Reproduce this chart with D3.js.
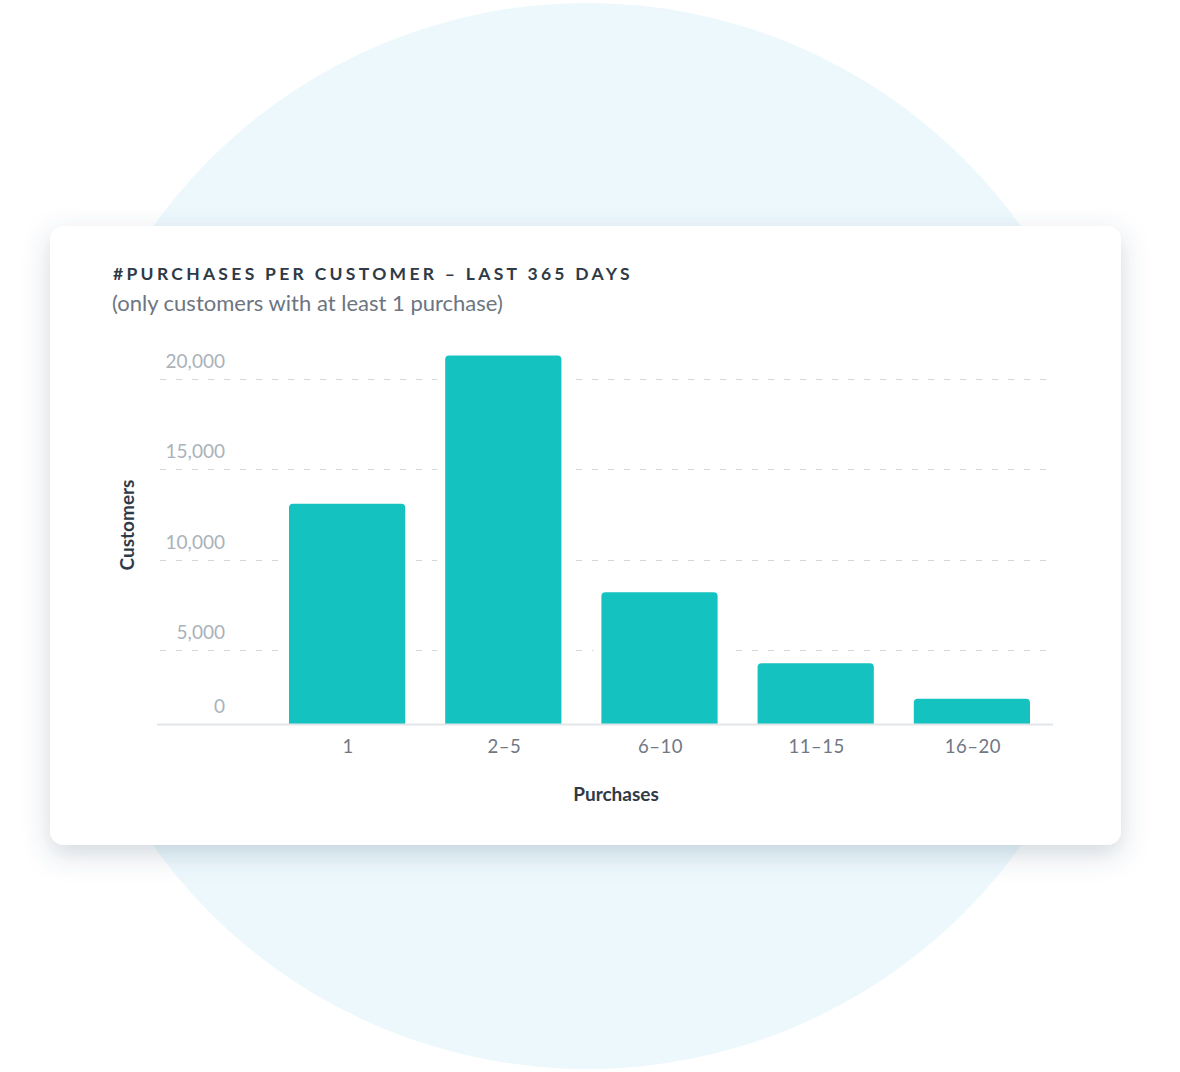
<!DOCTYPE html>
<html>
  <head>
    <meta charset="utf-8">
    <script src="https://d3js.org/d3.v7.min.js"></script>
    <title>Purchases per customer</title>
    <style>
      body {
        margin: 0px;
        background: #fff;
      }
      text {
        font-family: Lato, "Open Sans", sans-serif;
      }
      .title {
        fill: #2f3a47;
        font-size: 17.5px;
        font-weight: bold;
        letter-spacing: 3.3px;
      }
      .subtitle {
        fill: #6c7581;
        font-size: 22px;
      }
      .y-tick {
        fill: #aab2ba;
        font-size: 19px;
      }
      .x-tick {
        fill: #6f7884;
        font-size: 18.5px;
        letter-spacing: 0.5px;
      }
      .axis-label {
        fill: #2f3a47;
        font-size: 19px;
        font-weight: bold;
      }
    </style>
  </head>
  <body>
    <svg width="1180" height="1072"></svg>
    <script>
      const categories = ['1', '2\u20135', '6\u201310', '11\u201315', '16\u201320'];
      const customers = [13100, 21300, 8200, 4100, 1700];
      const yTicks = [0, 5000, 10000, 15000, 20000];

      const svg = d3.select('svg');

      // soft drop shadow for the card
      const defs = svg.append('defs');
      const shadow = defs.append('filter')
          .attr('id', 'shadow')
          .attr('x', '-10%').attr('y', '-15%')
          .attr('width', '120%').attr('height', '140%');
      shadow.append('feDropShadow')
          .attr('dx', 0).attr('dy', 9)
          .attr('stdDeviation', 13)
          .attr('flood-color', '#46607a')
          .attr('flood-opacity', 0.25);

      svg.append('circle')
          .attr('cx', 587).attr('cy', 536).attr('r', 533)
          .attr('fill', '#edf8fd');

      svg.append('rect')
          .attr('x', 50).attr('y', 226)
          .attr('width', 1071).attr('height', 619)
          .attr('rx', 14)
          .attr('fill', '#fff')
          .attr('filter', 'url(#shadow)');

      svg.append('text')
          .attr('class', 'title')
          .attr('x', 113).attr('y', 280)
          .text('#PURCHASES PER CUSTOMER \u2013 LAST 365 DAYS');

      svg.append('text')
          .attr('class', 'subtitle')
          .attr('x', 112).attr('y', 311)
          .text('(only customers with at least 1 purchase)');

      const left = 157, right = 1053, baseY = 724;

      // the zero line sits a bit higher than the even grid above it
      const yScale = d3.scaleLinear()
          .domain([0, 5000, 20000])
          .range([baseY, 650, 379]);

      const xScale = d3.scaleBand()
          .domain(categories)
          .range([269, 1050])
          .paddingInner(0.256)
          .paddingOuter(0.128);

      const g = svg.append('g');

      // dashed gridlines
      g.selectAll('.grid')
        .data(yTicks.filter(d => d > 0))
        .enter().append('line')
          .attr('x1', left + 3).attr('x2', right)
          .attr('y1', d => Math.round(yScale(d)) + 0.5)
          .attr('y2', d => Math.round(yScale(d)) + 0.5)
          .attr('stroke', '#d3d7dc')
          .attr('stroke-width', 1)
          .attr('stroke-dasharray', '6 10');

      g.selectAll('.y-tick')
        .data(yTicks)
        .enter().append('text')
          .attr('class', 'y-tick')
          .attr('x', 225)
          .attr('y', d => yScale(d) - 11)
          .attr('text-anchor', 'end')
          .text(d => d3.format(',')(d));

      // white halo so gridlines stop short of each bar
      g.selectAll('.halo')
        .data(customers)
        .enter().append('rect')
          .attr('x', (d, i) => xScale(categories[i]) - 8)
          .attr('y', d => yScale(d))
          .attr('width', xScale.bandwidth() + 16)
          .attr('height', d => baseY - yScale(d))
          .attr('fill', '#fff');

      const r = 4;
      const barPath = (d, i) => {
        const x0 = xScale(categories[i]);
        const x1 = x0 + xScale.bandwidth();
        const y0 = yScale(d);
        return `M${x0},${baseY}V${y0 + r}Q${x0},${y0} ${x0 + r},${y0}` +
          `H${x1 - r}Q${x1},${y0} ${x1},${y0 + r}V${baseY}Z`;
      };

      g.selectAll('.bar')
        .data(customers)
        .enter().append('path')
          .attr('class', 'bar')
          .attr('d', barPath)
          .attr('fill', '#14c2bf');

      g.append('line')
          .attr('x1', left).attr('x2', right)
          .attr('y1', baseY + 0.5).attr('y2', baseY + 0.5)
          .attr('stroke', '#e2e5e8')
          .attr('stroke-width', 2);

      g.selectAll('.x-tick')
        .data(categories)
        .enter().append('text')
          .attr('class', 'x-tick')
          .attr('x', d => xScale(d) + xScale.bandwidth() / 2 + 1)
          .attr('y', 753)
          .attr('text-anchor', 'middle')
          .text(d => d);

      g.append('text')
          .attr('class', 'axis-label')
          .attr('x', 616).attr('y', 801)
          .attr('text-anchor', 'middle')
          .text('Purchases');

      g.append('text')
          .attr('class', 'axis-label')
          .attr('transform', 'translate(134,525) rotate(-90)')
          .attr('text-anchor', 'middle')
          .text('Customers');
    </script>
  </body>
</html>
